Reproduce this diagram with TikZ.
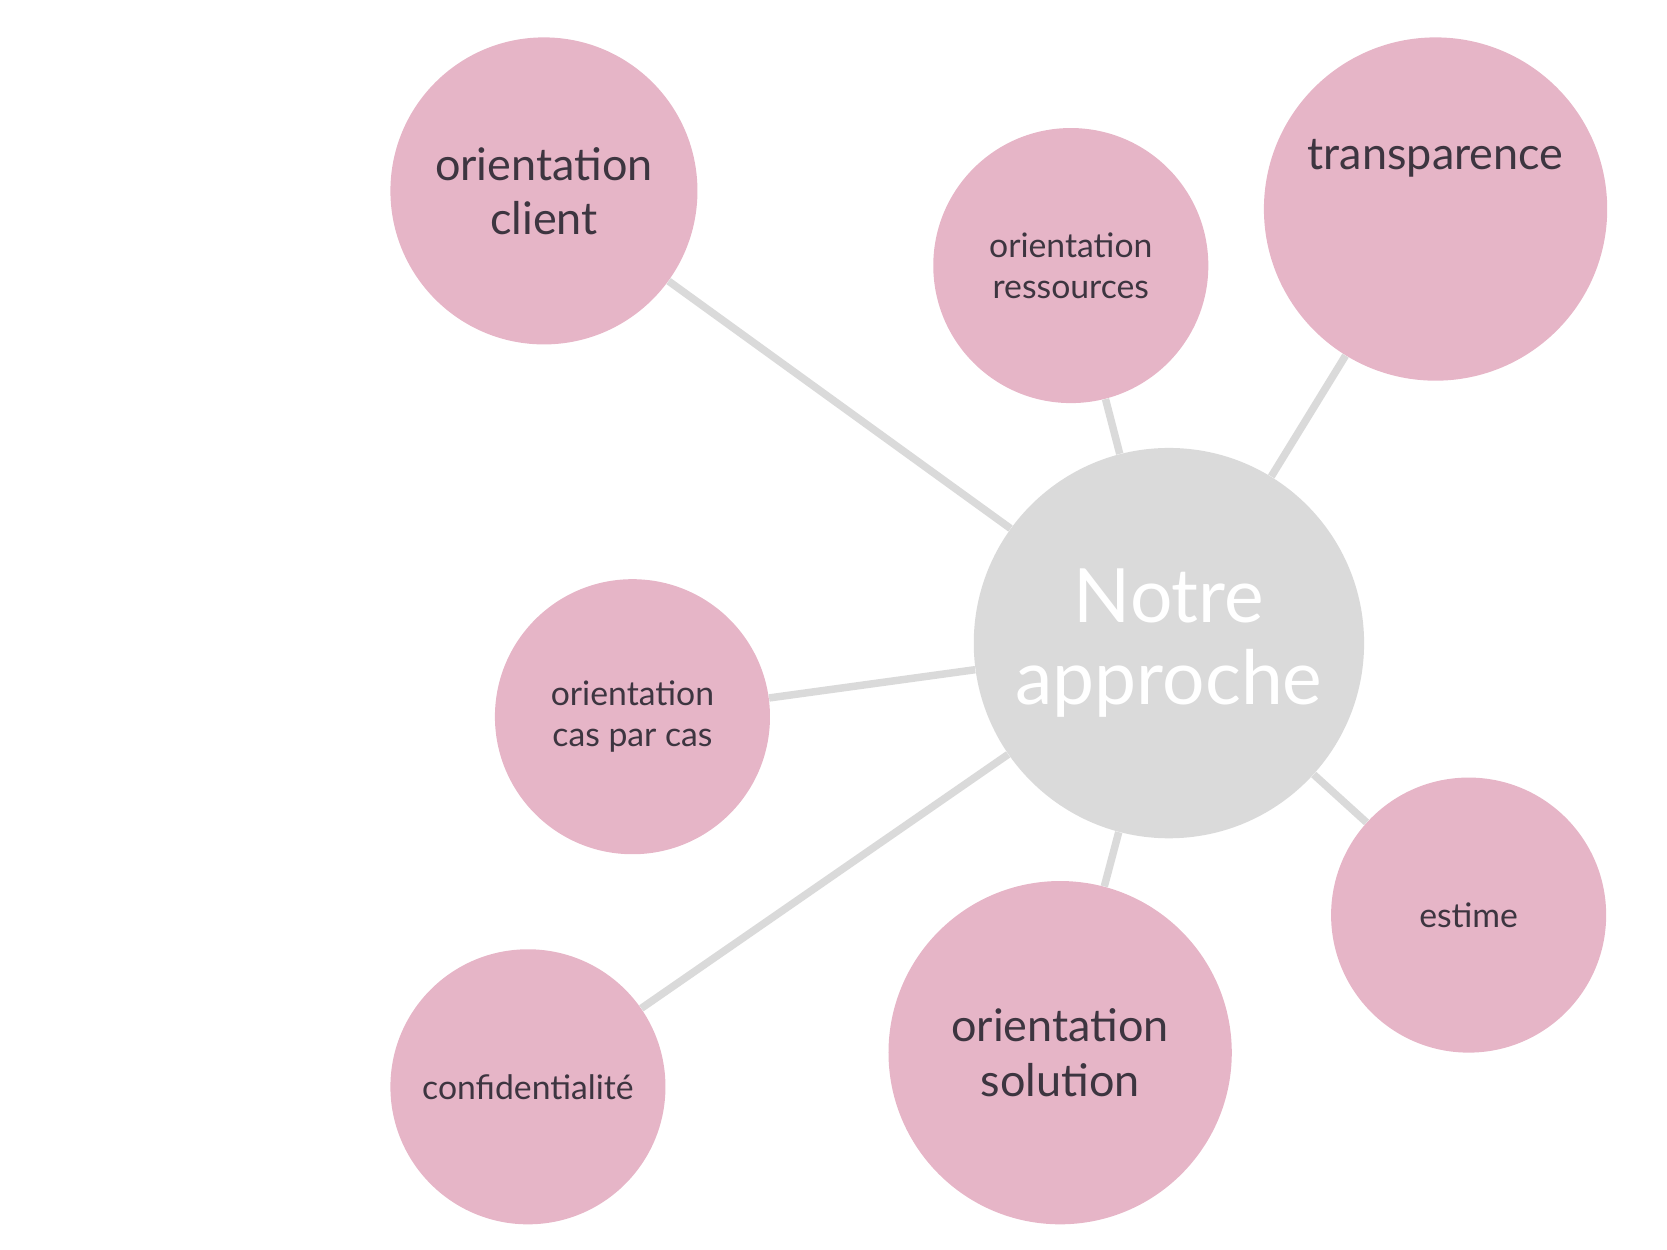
\documentclass[tikz,border=0pt]{standalone}
\usepackage{fontspec}
\setmainfont{Lato}
\definecolor{pinkc}{HTML}{E6B5C7}
\definecolor{grayc}{HTML}{DADADA}
\definecolor{txt}{HTML}{3D3540}
\begin{document}
\begin{tikzpicture}[x=0.02cm,y=-0.02cm,
  bub/.style={circle,fill=pinkc,text=txt,align=center,inner sep=0pt,minimum size=#1*0.04cm},
  link/.style={draw=grayc,line width=4pt}]
\useasboundingbox (0,0) rectangle (1563,1172);
\node[circle,fill=grayc,minimum size=366*0.02cm,inner sep=0pt,text=white,align=center,font=\fontsize{40}{44}\selectfont] (c) at (1096,603) {Notre\\approche};
\node[bub=144,font=\fontsize{24}{29}\selectfont] (a) at (510,179) {orientation\\client};
\node[bub=129,font=\fontsize{18}{22}\selectfont] (b) at (1004,249) {orientation\\ressources};
\node[bub=161,font=\fontsize{24}{29}\selectfont] (t) at (1346,196) {transparence\\[1.2em]};
\node[bub=129,font=\fontsize{18}{22}\selectfont] (p) at (593,672) {orientation\\cas par cas};
\node[bub=129,font=\fontsize{18}{22}\selectfont] (f) at (495,1019) {confidentialité};
\node[bub=161,font=\fontsize{24}{29}\selectfont] (s) at (994,987) {orientation\\solution};
\node[bub=129,font=\fontsize{18}{22}\selectfont] (e) at (1377,858) {estime};
\begin{scope}[on background layer/.style={}]
\end{scope}
\foreach \n in {a,b,t,p,f,s,e} {\path[link] (c) -- (\n);}
\end{tikzpicture}
\end{document}
